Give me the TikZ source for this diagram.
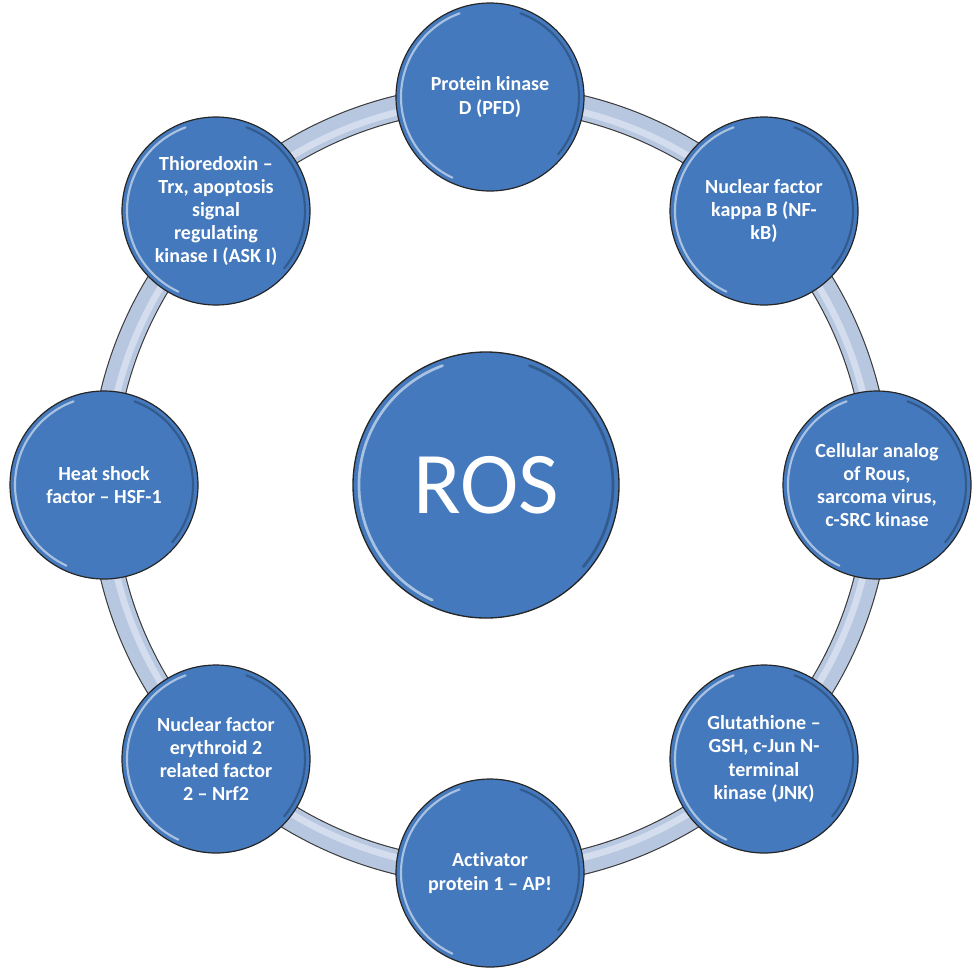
\documentclass[tikz,border=0pt]{standalone}
\usepackage{fontspec}
\setmainfont{Carlito}[Ligatures={NoCommon}]
\begin{document}
\begin{tikzpicture}[x=0.75pt,y=-0.75pt,
  bubble/.style={circle,draw=black!85,line width=0.9pt,fill=nodeblue,
    minimum size=141pt,inner sep=0pt,text=white,align=center,
    font=\bfseries\fontsize{15pt}{17.4pt}\selectfont},
  bigbubble/.style={circle,draw=black!85,line width=1pt,fill=nodeblue,
    minimum size=199.5pt,inner sep=0pt,text=white,align=center,
    font=\fontsize{66pt}{70pt}\selectfont}]
\definecolor{nodeblue}{HTML}{4479BD}
\definecolor{ringfill}{HTML}{B7C7E0}
\definecolor{ringlight}{HTML}{D3DDEE}
\definecolor{ringline}{HTML}{3A3A3A}
\useasboundingbox (0,0) rectangle (980,971);
\coordinate (c) at (490,485);
% ring band
\draw[ringline,line width=19.5pt] (c) circle[radius=388];
\draw[ringfill,line width=17.8pt] (c) circle[radius=388];
\draw[ringlight,line width=5pt] (c) circle[radius=384];
% center
\node[bigbubble] (ros) at (486,485) {ROS};
% outer nodes
\node[bubble] (n1) at (490,97) {Protein kinase\\D (PFD)};
\node[bubble] (n2) at (764,211) {Nuclear factor\\kappa B (NF-\\kB)};
\node[bubble] (n3) at (877,485) {Cellular analog\\of Rous,\\sarcoma virus,\\c-SRC kinase};
\node[bubble] (n4) at (764,759) {Glutathione –\\GSH, c-Jun N-\\terminal\\kinase (JNK)};
\node[bubble] (n5) at (490,873) {Activator\\protein 1 – AP!};
\node[bubble] (n6) at (216,759) {Nuclear factor\\erythroid 2\\related factor\\2 – Nrf2};
\node[bubble] (n7) at (104,485) {Heat shock\\factor – HSF-1};
\node[bubble] (n8) at (216,211) {Thioredoxin –\\Trx, apoptosis\\signal\\regulating\\kinase I (ASK I)};
% glossy highlights
\foreach \n in {n1,n2,n3,n4,n5,n6,n7,n8}{
  \draw[white,opacity=0.55,line width=1.6pt,line cap=round]
    (\n.center) ++(115:89) arc[start angle=115,end angle=250,radius=89];
  \draw[black,opacity=0.25,line width=1.6pt,line cap=round]
    (\n.center) ++(-70:89) arc[start angle=-70,end angle=40,radius=89];
}
\draw[white,opacity=0.55,line width=2pt,line cap=round]
  (ros.center) ++(115:127) arc[start angle=115,end angle=250,radius=127];
\draw[black,opacity=0.25,line width=2pt,line cap=round]
  (ros.center) ++(-70:127) arc[start angle=-70,end angle=40,radius=127];
\end{tikzpicture}
\end{document}
